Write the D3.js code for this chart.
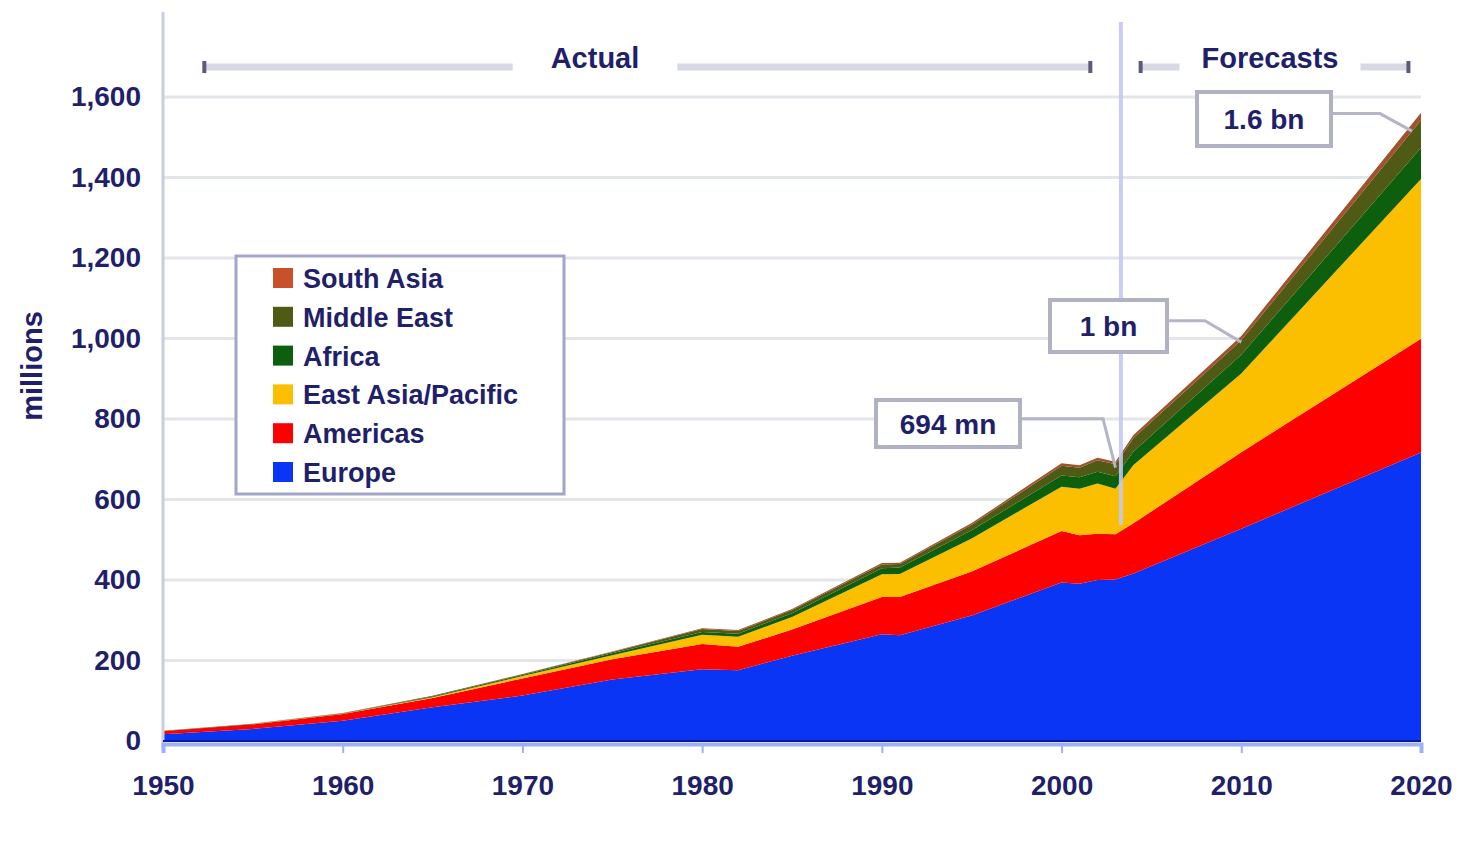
<!DOCTYPE html>
<html><head><meta charset="utf-8">
<script src="https://cdn.jsdelivr.net/npm/d3@7"></script>
<style>body{margin:0;background:#fff}svg{display:block}</style>
</head><body>
<svg id="c" width="1464" height="841"></svg>
<script>
const years          = [1950, 1955, 1960, 1965, 1970, 1975, 1980, 1982, 1985, 1990, 1991, 1995, 2000, 2001, 2002, 2003, 2004, 2010, 2020];
const europe         = [16.8, 30.1, 50.4, 83.7, 113.0, 153.0, 178.5, 176.0, 212.0, 265.0, 263.0, 312.0, 393.6, 390.8, 399.8, 401.5, 416.0, 527.3, 717.0];
const americas       = [7.5, 11.3, 16.7, 23.2, 42.3, 50.0, 62.3, 58.0, 65.0, 92.8, 95.0, 109.0, 128.2, 120.2, 114.9, 112.4, 125.0, 190.4, 282.3];
const eastAsiaPacific= [0.2, 0.4, 0.7, 2.1, 6.2, 10.2, 23.0, 25.0, 31.0, 56.2, 57.0, 82.4, 110.1, 115.7, 124.9, 113.1, 145.0, 195.2, 397.2];
const africa         = [0.5, 0.6, 0.75, 1.5, 2.4, 4.7, 7.2, 7.5, 9.7, 15.2, 16.0, 20.1, 27.9, 28.8, 29.5, 30.5, 33.0, 47.0, 77.3];
const middleEast     = [0.2, 0.4, 0.6, 1.8, 1.9, 3.5, 7.1, 7.0, 7.5, 9.6, 8.5, 13.7, 24.2, 23.6, 28.7, 30.0, 34.0, 35.9, 68.5];
const southAsia      = [0.04, 0.1, 0.2, 0.4, 0.9, 1.2, 2.3, 2.4, 2.5, 3.2, 3.1, 4.2, 6.1, 5.8, 5.8, 6.4, 7.0, 10.6, 18.8];

const seriesNames  = ["Europe", "Americas", "East Asia/Pacific", "Africa", "Middle East", "South Asia"];
const seriesColors = ["#0b35f5", "#ff0000", "#fbbf00", "#0d5e0d", "#4f5a14", "#a0522d"];
const yTicks = [0, 200, 400, 600, 800, 1000, 1200, 1400, 1600];
const xTicks = [1950, 1960, 1970, 1980, 1990, 2000, 2010, 2020];
const dividerYear = 2003.3;
const callouts = [
  {label: "694 mn", year: 2003, value: 694},
  {label: "1 bn", year: 2010, value: 1006},
  {label: "1.6 bn", year: 2019.5, value: 1530}
];

const seriesValues = [europe, americas, eastAsiaPacific, africa, middleEast, southAsia];
const table = years.map((yr, i) => {
  const row = {year: yr};
  seriesNames.forEach((n, k) => row[n] = seriesValues[k][i]);
  return row;
});

const svg = d3.select("#c");
const x = d3.scaleLinear().domain([1950, 2020]).range([163, 1421]);
const y = d3.scaleLinear().domain([0, 1800]).range([741, 16.5]);
const textCol = "#1f1f6a";
const font = "Arial, 'Liberation Sans', sans-serif";

// gridlines
svg.append("g").selectAll("line").data(yTicks.filter(d => d > 0)).join("line")
  .attr("x1", x(1950)).attr("x2", x(2020))
  .attr("y1", d => y(d)).attr("y2", d => y(d))
  .attr("stroke", "#e2e6ea").attr("stroke-width", 3);

// areas
const stack = d3.stack().keys(seriesNames);
const layers = stack(table);
const area = d3.area().x(d => x(d.data.year)).y0(d => y(d[0])).y1(d => y(d[1]));
svg.append("g").selectAll("path").data(layers).join("path")
  .attr("d", area).attr("fill", (d, i) => seriesColors[i]);

// y axis
const yAxis = d3.axisLeft(y).tickValues(yTicks).tickSize(0).tickPadding(22)
  .tickFormat(d3.format(","));
const ya = svg.append("g").attr("transform", `translate(${x(1950)},0)`).call(yAxis);
ya.select(".domain").remove();
ya.selectAll("text").attr("font-family", font).attr("font-size", 28).attr("font-weight", "bold").attr("fill", textCol);
svg.append("line").attr("x1", x(1950)).attr("x2", x(1950)).attr("y1", 12).attr("y2", 748)
  .attr("stroke", "#c8cde0").attr("stroke-width", 3);

// x axis
const xAxis = d3.axisBottom(x).tickValues(xTicks).tickSize(9).tickPadding(22).tickFormat(d3.format("d"));
const xa = svg.append("g").attr("transform", `translate(0,${y(0) + 3})`).call(xAxis);
xa.select(".domain").attr("stroke", "#9fb0f5").attr("stroke-width", 4);
xa.selectAll(".tick line").attr("stroke", "#9fb0f5").attr("stroke-width", 2);
xa.selectAll("text").attr("font-family", font).attr("font-size", 28).attr("font-weight", "bold").attr("fill", textCol);
svg.append("line").attr("x1", x(1950)).attr("x2", x(2020)).attr("y1", y(0)).attr("y2", y(0))
  .attr("stroke", "#0a1a9a").attr("stroke-width", 2);

// y label
svg.append("text").attr("transform", "translate(42,366) rotate(-90)").attr("text-anchor", "middle")
  .attr("font-family", font).attr("font-size", 29).attr("font-weight", "bold").attr("fill", textCol).text("millions");

// divider
svg.append("line").attr("x1", x(dividerYear)).attr("x2", x(dividerYear)).attr("y1", 22).attr("y2", 525)
  .attr("stroke", "#c6c8f2").attr("stroke-width", 4).attr("opacity", 0.9);

// header
function header(x1, x2, tx, label, pad) {
  const g = svg.append("g");
  const t = g.append("text").attr("x", tx).attr("y", 68).attr("text-anchor", "middle")
    .attr("font-family", font).attr("font-size", 29).attr("font-weight", "bold").attr("fill", textCol).text(label);
  const w = t.node().getComputedTextLength() + pad;
  [[x1, tx - w / 2], [tx + w / 2, x2]].forEach(([a, b]) => {
    g.append("line").attr("x1", a).attr("x2", b).attr("y1", 67).attr("y2", 67)
      .attr("stroke", "#d6d8e4").attr("stroke-width", 7);
  });
  [x1, x2].forEach(p => g.append("line").attr("x1", p).attr("x2", p).attr("y1", 61).attr("y2", 73)
    .attr("stroke", "#5a5a7a").attr("stroke-width", 4));
  t.raise();
}
header(x(1952.3), x(2001.6), 595, "Actual", 76);
header(x(2004.4), x(2019.3), 1270, "Forecasts", 44);

// callouts
const boxes = [
  {x: 876, y: 400, w: 144, h: 47, lx: 1103},
  {x: 1050, y: 300, w: 117, h: 52, lx: 1205},
  {x: 1197, y: 92, w: 134, h: 54, lx: 1380}
];
callouts.forEach((c, i) => {
  const b = boxes[i];
  const ly = b.y + b.h * 0.4;
  svg.append("polyline").attr("points", `${b.x + b.w},${ly} ${b.lx},${ly} ${x(c.year)},${y(c.value) + 6}`)
    .attr("fill", "none").attr("stroke", "#b4b6c8").attr("stroke-width", 3);
  svg.append("rect").attr("x", b.x).attr("y", b.y).attr("width", b.w).attr("height", b.h)
    .attr("fill", "#fff").attr("stroke", "#b0b2c4").attr("stroke-width", 4);
  svg.append("text").attr("x", b.x + b.w / 2).attr("y", b.y + b.h / 2 + 10).attr("text-anchor", "middle")
    .attr("font-family", font).attr("font-size", 28).attr("font-weight", "bold").attr("fill", textCol).text(c.label);
});

// legend
const lg = svg.append("g");
lg.append("rect").attr("x", 236).attr("y", 256).attr("width", 328).attr("height", 238)
  .attr("fill", "#fff").attr("stroke", "#a4a6c8").attr("stroke-width", 3);
const legendOrder = seriesNames.map((n, i) => ({n, c: seriesColors[i]})).reverse();
legendOrder.forEach((d, i) => {
  const yy = 278 + i * 38.8;
  lg.append("rect").attr("x", 273).attr("y", yy - 10).attr("width", 20).attr("height", 20).attr("fill", i === 0 ? "#c8502a" : d.c);
  lg.append("text").attr("x", 303).attr("y", yy + 10).attr("font-family", font).attr("font-size", 27)
    .attr("font-weight", "bold").attr("fill", textCol).text(d.n);
});
</script>
</body></html>
